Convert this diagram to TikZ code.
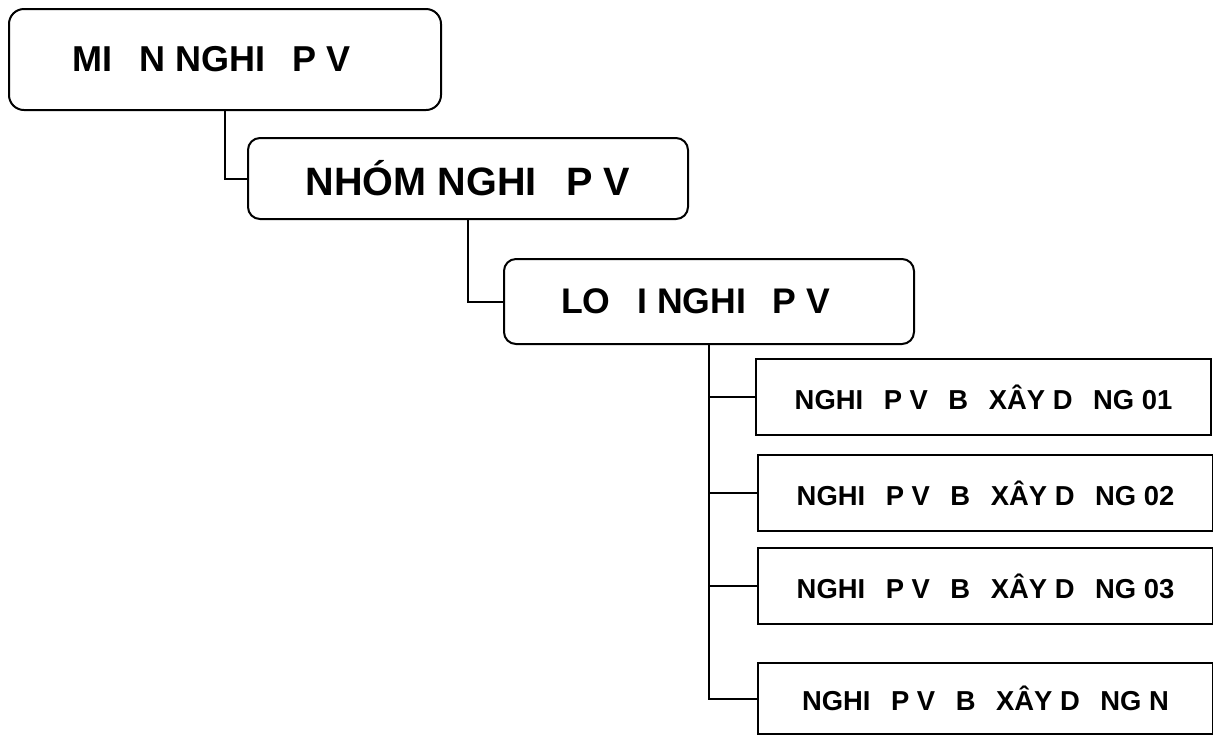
\documentclass[tikz,border=0pt]{standalone}
\usepackage{fontspec}
\setmainfont{Liberation Sans}
\usetikzlibrary{positioning}

% gap left where a glyph is missing in the printed labels
\newcommand{\gp}{\hspace{0.75em}}

\begin{document}
\begin{tikzpicture}[
    x=0.5pt, y=-0.5pt,
    font=\bfseries,
    bigbox/.style={draw, line width=1pt, rounded corners=6pt, anchor=north west,
                   inner sep=0pt, font=\bfseries\fontsize{18}{22}\selectfont},
    leafbox/.style={draw, line width=1pt, anchor=north west, inner sep=0pt,
                    minimum width=227.5pt, minimum height=38pt,
                    font=\bfseries\fontsize{13.7}{16}\selectfont},
    link/.style={draw, line width=1pt},
]
\useasboundingbox (0,0) rectangle (1213,736);

% ---- Levels ----
\node[bigbox, rounded corners=7.5pt, minimum width=216pt, minimum height=50.5pt] (mien) at (8,8)
    {MI\gp N NGHI\gp P V\gp\gp};
\node[bigbox, minimum width=220pt, minimum height=40.5pt, font=\bfseries\fontsize{19.8}{23}\selectfont]
    (nhom) at (247,137) {NHÓM NGHI\gp P V\gp};
\node[bigbox, minimum width=205pt, minimum height=42.5pt, font=\bfseries\fontsize{17.8}{21}\selectfont]
    (loai) at (503,258) {LO\gp I NGHI\gp P V\gp\gp};

% ---- Leaf boxes ----
\node[leafbox] (nv1) at (755,358) {NGHI\gp P V\gp B\gp XÂY D\gp NG 01};
\node[leafbox] (nv2) at (757,454) {NGHI\gp P V\gp B\gp XÂY D\gp NG 02};
\node[leafbox] (nv3) at (757,547) {NGHI\gp P V\gp B\gp XÂY D\gp NG 03};
\node[leafbox, minimum height=35.5pt] (nvN) at (757,662) {NGHI\gp P V\gp B\gp XÂY D\gp NG N};

% ---- Connectors ----
\draw[link] (mien.south) |- (nhom.west);
\draw[link] (nhom.south) |- (loai.west);
\foreach \leaf in {nv1,nv2,nv3,nvN}
    \draw[link] (loai.south) |- (\leaf.west);

\end{tikzpicture}
\end{document}
